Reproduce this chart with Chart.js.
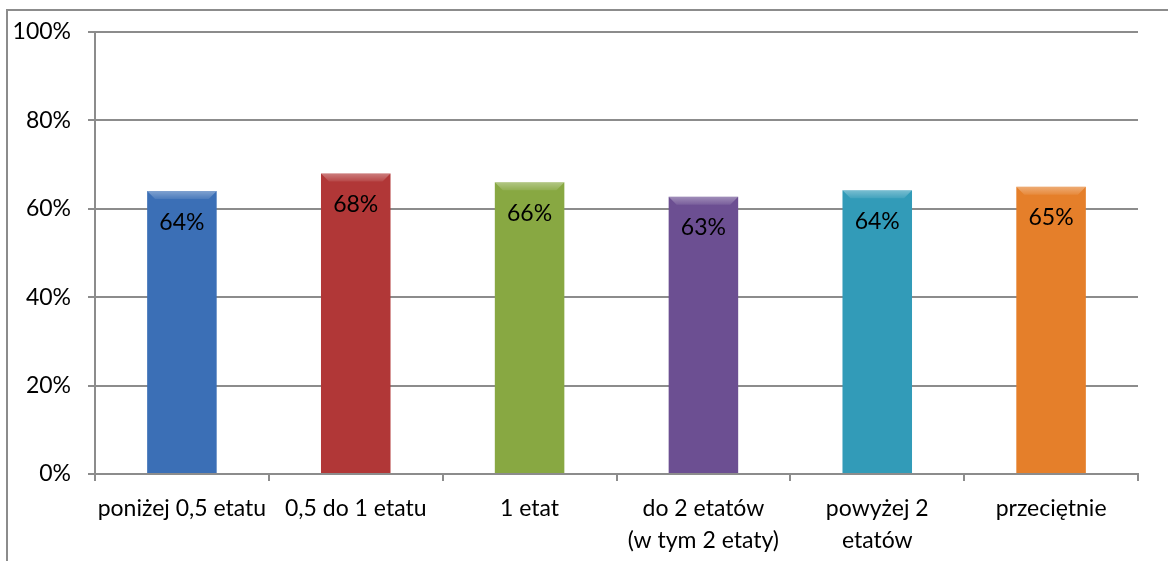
<!DOCTYPE html>
<html>
<head>
<meta charset="utf-8">
<script src="https://cdn.jsdelivr.net/npm/chart.js@4.4.1/dist/chart.umd.min.js"></script>
<style>
html,body{margin:0;padding:0;background:#fff;}
#wrap{position:relative;width:1168px;height:561px;overflow:hidden;}
#frame{position:absolute;left:6px;top:9px;width:1200px;height:600px;border:2px solid #8c8c8c;box-sizing:border-box;pointer-events:none;}
canvas{position:absolute;left:0;top:0;}
</style>
</head>
<body>
<div id="wrap">
<canvas id="c" width="1168" height="561"></canvas>
<div id="frame"></div>
</div>
<script>
const categories = [["poniżej 0,5 etatu"], ["0,5 do 1 etatu"], ["1 etat"], ["do 2 etatów", "(w tym 2 etaty)"], ["powyżej 2", "etatów"], ["przeciętnie"]];
const values = [64, 68, 66, 62.7, 64.2, 65];
const valueLabels = ["64%", "68%", "66%", "63%", "64%", "65%"];
const yTicks = [0, 20, 40, 60, 80, 100];
const barColors = [
  ["#264d80", "#3b6fb6", "#244a7c"],
  ["#832626", "#b13737", "#7c2424"],
  ["#627a2e", "#88a842", "#5e762c"],
  ["#4b3669", "#6c4f92", "#473364"],
  ["#226f86", "#329bb8", "#206a80"],
  ["#a85a1c", "#e57f2a", "#a2561a"]
];

const FONT = "Lato, 'Open Sans', sans-serif";

function barFill(ctx) {
  const chart = ctx.chart;
  const el = chart.getDatasetMeta(0).data[ctx.dataIndex];
  const c = barColors[ctx.dataIndex];
  if (!el || el.width === undefined || isNaN(el.x)) return c[1];
  const x0 = el.x - el.width / 2, x1 = el.x + el.width / 2;
  const g = chart.ctx.createLinearGradient(x0, 0, x1, 0);
  g.addColorStop(0, c[0]);
  g.addColorStop(0.08, c[1]);
  g.addColorStop(0.5, c[1]);
  g.addColorStop(0.92, c[1]);
  g.addColorStop(1, c[2]);
  return g;
}

const labelPlugin = {
  id: 'valLabels',
  afterDatasetsDraw(chart) {
    const ctx = chart.ctx;
    const meta = chart.getDatasetMeta(0);
    ctx.save();
    meta.data.forEach((el, i) => {
      const x0 = el.x - el.width / 2;
      const g = ctx.createLinearGradient(0, el.y, 0, el.y + 9);
      g.addColorStop(0, 'rgba(255,255,255,0.35)');
      g.addColorStop(1, 'rgba(255,255,255,0.05)');
      ctx.fillStyle = g;
      ctx.beginPath();
      ctx.moveTo(x0, el.y);
      ctx.lineTo(x0 + el.width, el.y);
      ctx.lineTo(x0 + el.width - 8, el.y + 8);
      ctx.lineTo(x0 + 8, el.y + 8);
      ctx.closePath();
      ctx.fill();
    });
    ctx.fillStyle = '#000';
    ctx.font = "23px " + FONT;
    ctx.textAlign = 'center';
    ctx.textBaseline = 'middle';
    meta.data.forEach((el, i) => {
      ctx.fillText(valueLabels[i], el.x, el.y + 31);
    });
    ctx.restore();
  }
};

new Chart(document.getElementById('c'), {
  type: 'bar',
  data: {
    labels: categories,
    datasets: [{
      data: values,
      backgroundColor: barFill,
      borderWidth: 0,
      barPercentage: 0.4,
      categoryPercentage: 1.0
    }]
  },
  options: {
    responsive: false,
    animation: false,
    events: [],
    layout: { padding: { left: 0, right: 30, top: 32, bottom: 0 } },
    plugins: { legend: { display: false }, tooltip: { enabled: false } },
    scales: {
      x: {
        grid: { display: true, drawOnChartArea: false, drawTicks: true, tickLength: 7, color: '#8c8c8c', lineWidth: 2, offset: true },
        border: { display: true, color: '#8c8c8c', width: 2 },
        ticks: { color: '#000', font: { family: FONT, size: 23, lineHeight: 1.4 }, padding: 11, maxRotation: 0, autoSkip: false },
        afterFit(s) { s.height = 87; }
      },
      y: {
        min: 0, max: 100,
        afterBuildTicks(s) { s.ticks = yTicks.map(v => ({ value: v })); },
        grid: { color: '#8c8c8c', lineWidth: 2, drawTicks: true, tickLength: 7 },
        border: { display: true, color: '#8c8c8c', width: 2 },
        ticks: { color: '#000', font: { family: FONT, size: 23 }, padding: 17, callback: v => v + '%' },
        afterFit(s) { s.width = 95; }
      }
    }
  },
  plugins: [labelPlugin]
});
</script>
</body>
</html>
